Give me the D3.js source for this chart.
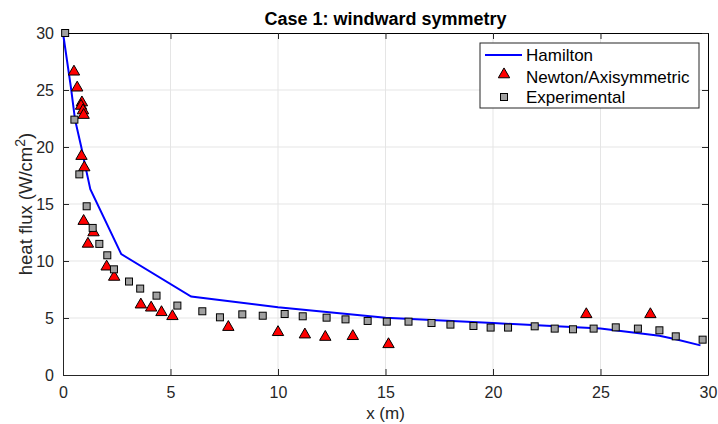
<!DOCTYPE html>
<html>
<head>
<meta charset="utf-8">
<script src="https://cdn.jsdelivr.net/npm/d3@7"></script>
<style>
  body { margin: 0; background: #fff; }
  text { font-family: "Liberation Sans", Arial, sans-serif; }
</style>
</head>
<body>
<div id="chart"></div>
<script>
// Hamilton curve (x, heat flux)
var hamX = [0, 0.37, 0.56, 0.85, 1.04, 1.27, 2.71, 5.96, 10, 15, 20, 25, 27.74, 28.5, 29.65];
var hamY = [30, 25.2, 22.4, 20, 18.3, 16.3, 10.6, 6.88, 5.94, 5.03, 4.56, 4.07, 3.45, 3.13, 2.6];

// Newton / axisymmetric
var newtX = [0.51, 0.66, 0.88, 0.84, 0.93, 0.96, 0.86, 0.99, 0.96, 1.42, 1.16, 2.03, 2.38, 3.62, 4.1, 4.58, 5.09, 7.69, 10.0, 11.25, 12.2, 13.48, 15.14, 24.34, 27.32];
var newtY = [26.6, 25.2, 23.9, 23.6, 23.2, 22.8, 19.2, 18.2, 13.5, 12.5, 11.5, 9.5, 8.6, 6.17, 5.9, 5.5, 5.15, 4.2, 3.75, 3.54, 3.33, 3.4, 2.69, 5.32, 5.32];

// Experimental
var expX = [0.1, 0.53, 0.76, 1.1, 1.38, 1.69, 2.06, 2.37, 3.07, 3.59, 4.35, 5.32, 6.48, 7.3, 8.34, 9.29, 10.31, 11.15, 12.26, 13.14, 14.17, 15.06, 16.07, 17.14, 18.02, 19.09, 19.89, 20.7, 21.94, 22.87, 23.72, 24.68, 25.71, 26.74, 27.74, 28.5, 29.75];
var expY = [30, 22.4, 17.6, 14.8, 12.9, 11.5, 10.5, 9.27, 8.2, 7.58, 6.96, 6.09, 5.59, 5.06, 5.32, 5.2, 5.35, 5.15, 5.03, 4.88, 4.74, 4.68, 4.68, 4.56, 4.42, 4.3, 4.16, 4.16, 4.27, 4.07, 4.01, 4.07, 4.18, 4.07, 3.92, 3.39, 3.1];

var xTicks = [0, 5, 10, 15, 20, 25, 30];
var yTicks = [0, 5, 10, 15, 20, 25, 30];

var width = 718, height = 424;
var margin = {top: 33, right: 10, bottom: 49, left: 63};
var w = width - margin.left - margin.right;
var h = height - margin.top - margin.bottom;

var svg = d3.select("#chart").append("svg")
    .attr("width", width)
    .attr("height", height);

var g = svg.append("g")
    .attr("transform", "translate(" + margin.left + "," + margin.top + ")");

var x = d3.scaleLinear().domain([0, 30]).range([0, w]);
var y = d3.scaleLinear().domain([0, 30]).range([h, 0]);

// grid
g.selectAll(".gx").data(xTicks.slice(1, -1)).enter().append("line")
    .attr("x1", d => x(d)).attr("x2", d => x(d))
    .attr("y1", 0).attr("y2", h)
    .attr("stroke", "#e5e5e5").attr("stroke-width", 1);
g.selectAll(".gy").data(yTicks.slice(1, -1)).enter().append("line")
    .attr("x1", 0).attr("x2", w)
    .attr("y1", d => y(d)).attr("y2", d => y(d))
    .attr("stroke", "#e5e5e5").attr("stroke-width", 1);

// axes (ticks inward, MATLAB style)
var axisColor = "#262626";
var xAxis = g.append("g").attr("transform", "translate(0," + h + ")")
    .call(d3.axisBottom(x).tickValues(xTicks).tickSizeInner(-6).tickSizeOuter(0).tickPadding(12));
var yAxis = g.append("g")
    .call(d3.axisLeft(y).tickValues(yTicks).tickSizeInner(-6).tickSizeOuter(0).tickPadding(9));
var xTop = g.append("g")
    .call(d3.axisTop(x).tickValues(xTicks).tickSizeInner(-6).tickSizeOuter(0).tickFormat(""));
var yRight = g.append("g").attr("transform", "translate(" + w + ",0)")
    .call(d3.axisRight(y).tickValues(yTicks).tickSizeInner(-6).tickSizeOuter(0).tickFormat(""));

[xAxis, yAxis, xTop, yRight].forEach(function(a) {
    a.selectAll("path").attr("stroke", axisColor);
    a.selectAll("line").attr("stroke", axisColor);
    a.selectAll("text").attr("fill", axisColor).style("font-size", "16px")
        .style("font-family", "Liberation Sans, Arial, sans-serif");
});
xTop.select("path").attr("stroke", "#000");
yRight.select("path").attr("stroke", "#000");

// Hamilton line
var line = d3.line().x(d => x(d[0])).y(d => y(d[1]));
g.append("path")
    .datum(d3.zip(hamX, hamY))
    .attr("d", line)
    .attr("fill", "none")
    .attr("stroke", "#0000ff")
    .attr("stroke-width", 2);

// Newton triangles
var tri = d3.symbol().type(d3.symbolTriangle).size(56);
g.selectAll(".tri").data(d3.zip(newtX, newtY)).enter().append("path")
    .attr("d", tri)
    .attr("transform", d => "translate(" + x(d[0]) + "," + y(d[1]) + ")")
    .attr("fill", "#ff0000")
    .attr("stroke", "#000")
    .attr("stroke-width", 1);

// experimental squares
var sq = 7;
g.selectAll(".sq").data(d3.zip(expX, expY)).enter().append("rect")
    .attr("x", d => x(d[0]) - sq / 2)
    .attr("y", d => y(d[1]) - sq / 2)
    .attr("width", sq).attr("height", sq)
    .attr("fill", "#a0a0a0")
    .attr("stroke", "#000")
    .attr("stroke-width", 1);

// title
svg.append("text")
    .attr("x", margin.left + w / 2).attr("y", 25)
    .attr("text-anchor", "middle")
    .style("font-size", "18px").style("font-weight", "bold")
    .attr("fill", "#000")
    .text("Case 1: windward symmetry");

// axis labels
svg.append("text")
    .attr("x", margin.left + w / 2).attr("y", 419)
    .attr("text-anchor", "middle")
    .style("font-size", "17px").attr("fill", axisColor)
    .text("x (m)");

var yl = svg.append("text")
    .attr("transform", "translate(32,204) rotate(-90)")
    .attr("text-anchor", "middle")
    .style("font-size", "18.5px").attr("fill", axisColor);
yl.append("tspan").text("heat flux (W/cm");
yl.append("tspan").attr("dy", -7).style("font-size", "14px").text("2");
yl.append("tspan").attr("dy", 7).text(")");

// legend
var lg = svg.append("g").attr("transform", "translate(480,43)");
lg.append("rect").attr("width", 219).attr("height", 65)
    .attr("fill", "#fff").attr("stroke", "#262626").attr("stroke-width", 1);
var rows = [12, 31.5, 54];
var base = [18, 39.5, 60];
lg.append("line").attr("x1", 5).attr("x2", 42).attr("y1", rows[0]).attr("y2", rows[0])
    .attr("stroke", "#0000ff").attr("stroke-width", 2);
lg.append("path").attr("d", tri)
    .attr("transform", "translate(24," + rows[1] + ")")
    .attr("fill", "#ff0000").attr("stroke", "#000");
lg.append("rect").attr("x", 24 - 3.5).attr("y", rows[2] - 3.5).attr("width", 7).attr("height", 7)
    .attr("fill", "#a0a0a0").attr("stroke", "#000");
var labels = ["Hamilton", "Newton/Axisymmetric", "Experimental"];
lg.selectAll(".lt").data(labels).enter().append("text")
    .attr("x", 46).attr("y", (d, i) => base[i])
    .style("font-size", "17px").attr("fill", "#000")
    .text(d => d);
</script>
</body>
</html>
